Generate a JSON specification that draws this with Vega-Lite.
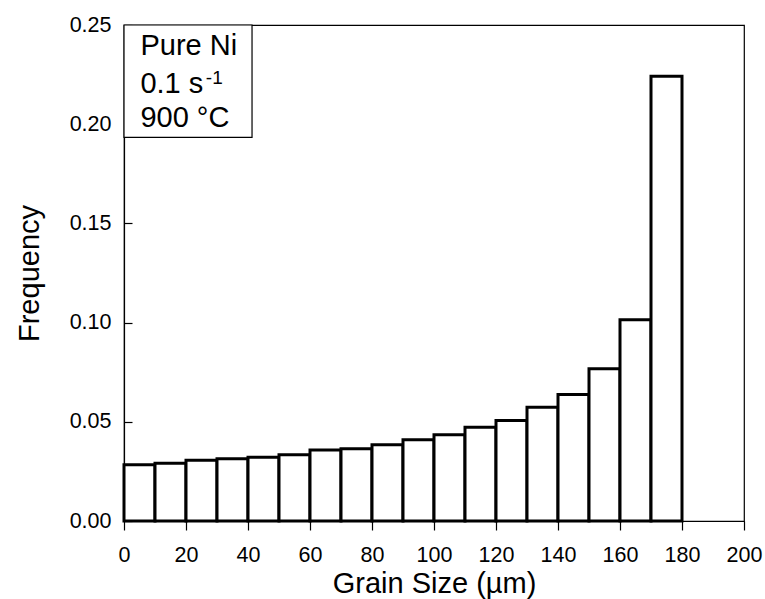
{
  "$schema": "https://vega.github.io/schema/vega-lite/v6.json",
  "width": 620,
  "height": 496,
  "autosize": "none",
  "padding": {"left": 124, "top": 25, "right": 21, "bottom": 78},
  "background": "white",
  "config": {
    "font": "Liberation Sans",
    "view": {"stroke": "black", "strokeWidth": 1.2},
    "axis": {
      "domainColor": "black",
      "domainWidth": 1.2,
      "tickColor": "black",
      "tickWidth": 1.2,
      "grid": false,
      "labelColor": "black",
      "titleColor": "black",
      "labelFont": "Liberation Sans",
      "titleFont": "Liberation Sans",
      "labelFontSize": 21.5,
      "titleFontSize": 29,
      "titleFontWeight": "normal"
    }
  },
  "datasets": {
    "hist": [
      {"bin_start": 0, "bin_end": 10, "frequency": 0.0284},
      {"bin_start": 10, "bin_end": 20, "frequency": 0.0291},
      {"bin_start": 20, "bin_end": 30, "frequency": 0.0306},
      {"bin_start": 30, "bin_end": 40, "frequency": 0.0314},
      {"bin_start": 40, "bin_end": 50, "frequency": 0.0321},
      {"bin_start": 50, "bin_end": 60, "frequency": 0.0334},
      {"bin_start": 60, "bin_end": 70, "frequency": 0.0358},
      {"bin_start": 70, "bin_end": 80, "frequency": 0.0364},
      {"bin_start": 80, "bin_end": 90, "frequency": 0.0384},
      {"bin_start": 90, "bin_end": 100, "frequency": 0.0409},
      {"bin_start": 100, "bin_end": 110, "frequency": 0.0435},
      {"bin_start": 110, "bin_end": 120, "frequency": 0.0472},
      {"bin_start": 120, "bin_end": 130, "frequency": 0.0506},
      {"bin_start": 130, "bin_end": 140, "frequency": 0.0573},
      {"bin_start": 140, "bin_end": 150, "frequency": 0.0637},
      {"bin_start": 150, "bin_end": 160, "frequency": 0.0768},
      {"bin_start": 160, "bin_end": 170, "frequency": 0.1014},
      {"bin_start": 170, "bin_end": 180, "frequency": 0.2242}
    ],
    "box": [
      {"x0": 0, "x1": 41.3, "y0": 0.1934, "y1": 0.25}
    ],
    "notes": [
      {"label": "Pure Ni", "gx": 5.3, "gy": 0.2348},
      {"label": "0.1 s", "gx": 5.3, "gy": 0.2155},
      {"label": "900 °C", "gx": 5.3, "gy": 0.1986}
    ],
    "sup": [
      {"label": "-1", "gx": 26.4, "gy": 0.2205}
    ]
  },
  "layer": [
    {
      "data": {"name": "hist"},
      "mark": {"type": "rect", "fill": "white", "stroke": "black", "strokeWidth": 3},
      "encoding": {
        "x": {
          "field": "bin_start",
          "type": "quantitative",
          "scale": {"domain": [0, 200], "nice": false, "zero": false},
          "axis": {
            "title": "Grain Size (µm)",
            "values": [0, 20, 40, 60, 80, 100, 120, 140, 160, 180, 200],
            "tickSize": 9,
            "labelPadding": 14,
            "titlePadding": 4,
            "labelFlush": false
          }
        },
        "x2": {"field": "bin_end"},
        "y": {
          "field": "frequency",
          "type": "quantitative",
          "scale": {"domain": [0, 0.25], "nice": false},
          "axis": {
            "title": "Frequency",
            "values": [0, 0.05, 0.1, 0.15, 0.2, 0.25],
            "format": ".2f",
            "tickSize": -8,
            "labelPadding": 21,
            "titlePadding": 25,
            "labelFlush": false
          }
        },
        "y2": {"datum": 0}
      }
    },
    {
      "data": {"name": "box"},
      "mark": {"type": "rect", "fill": "white", "stroke": "black", "strokeWidth": 1.2},
      "encoding": {
        "x": {"field": "x0", "type": "quantitative"},
        "x2": {"field": "x1"},
        "y": {"field": "y0", "type": "quantitative"},
        "y2": {"field": "y1"}
      }
    },
    {
      "data": {"name": "notes"},
      "mark": {"type": "text", "align": "left", "baseline": "alphabetic", "fontSize": 29, "font": "Liberation Sans", "color": "black"},
      "encoding": {
        "x": {"field": "gx", "type": "quantitative"},
        "y": {"field": "gy", "type": "quantitative"},
        "text": {"field": "label"}
      }
    },
    {
      "data": {"name": "sup"},
      "mark": {"type": "text", "align": "left", "baseline": "alphabetic", "fontSize": 19, "font": "Liberation Sans", "color": "black"},
      "encoding": {
        "x": {"field": "gx", "type": "quantitative"},
        "y": {"field": "gy", "type": "quantitative"},
        "text": {"field": "label"}
      }
    }
  ]
}
